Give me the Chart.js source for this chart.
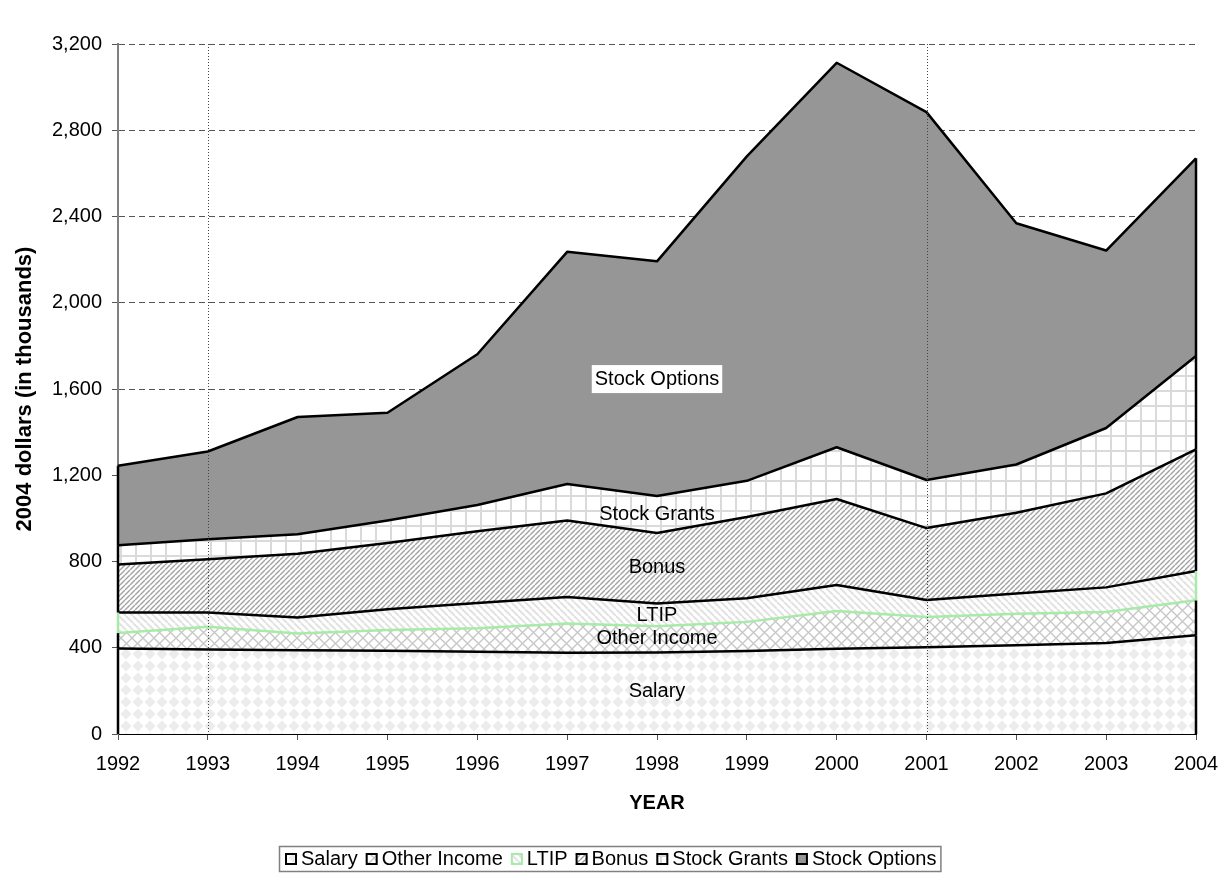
<!DOCTYPE html>
<html>
<head>
<meta charset="utf-8">
<script src="https://cdn.jsdelivr.net/npm/chart.js@4"></script>
<style>
  html, body { margin: 0; padding: 0; background: #fff; }
  #wrap { width: 1222px; height: 877px; position: relative; }
</style>
</head>
<body>
<div id="wrap"><canvas id="compChart"></canvas></div>
<script>
// Data (thousands of 2004 dollars, per component)
const years = ['1992', '1993', '1994', '1995', '1996', '1997', '1998', '1999', '2000', '2001', '2002', '2003', '2004'];
const salary = [397, 392, 388, 386, 382, 377, 378, 385, 395, 402, 412, 422, 458];
const otherIncome = [71, 105, 78, 96, 108, 135, 122, 135, 175, 141, 146, 144, 162];
const ltip = [96, 67, 74, 96, 117, 123, 105, 110, 121, 78, 94, 114, 136];
const bonus = [222, 246, 296, 308, 333, 355, 327, 376, 399, 334, 374, 436, 564];
const stockGrants = [89, 93, 90, 104, 122, 169, 172, 168, 240, 223, 224, 303, 433];
const stockOptions = [369, 407, 544, 500, 699, 1077, 1088, 1505, 1783, 1706, 1119, 823, 917];
const yTicks = [0, 400, 800, 1200, 1600, 2000, 2400, 2800, 3200];
const markedYears = ['1993', '2001'];

// In-chart labels (text, value at the 1998 column)
const areaLabels = ['Stock Options', 'Stock Grants', 'Bonus', 'LTIP', 'Other Income', 'Salary'];
const areaLabelValues = [1646, 1016, 770, 548, 442, 198];
const labelYear = '1998';

const ctx = document.getElementById('compChart').getContext('2d');
Chart.defaults.font.family = "'Liberation Sans', Arial, sans-serif";
Chart.defaults.font.size = 20;
Chart.defaults.color = '#000';
const FONT = "'Liberation Sans', Arial, sans-serif";

// Fill patterns, similar to the old Excel area fills
function makePattern(size, draw) {
    const c = document.createElement('canvas');
    c.width = size;
    c.height = size;
    const g = c.getContext('2d');
    g.fillStyle = '#fff';
    g.fillRect(0, 0, size, size);
    draw(g, size);
    return ctx.createPattern(c, 'repeat');
}

const salaryFill = makePattern(12, (g, s) => {
    g.fillStyle = '#ececec';
    g.beginPath();
    g.moveTo(s / 2, 0.5);
    g.lineTo(s - 0.5, s / 2);
    g.lineTo(s / 2, s - 0.5);
    g.lineTo(0.5, s / 2);
    g.closePath();
    g.fill();
});

const otherFill = makePattern(11, (g, s) => {
    g.strokeStyle = '#c6c6c6';
    g.lineWidth = 1.3;
    for (let k = -1; k <= 1; k++) {
        g.beginPath(); g.moveTo(k * s, 0); g.lineTo(k * s + s, s); g.stroke();
        g.beginPath(); g.moveTo(k * s, s); g.lineTo(k * s + s, 0); g.stroke();
    }
});

const ltipFill = makePattern(7, (g, s) => {
    g.strokeStyle = '#e2e2e2';
    g.lineWidth = 2;
    for (let k = -1; k <= 1; k++) {
        g.beginPath(); g.moveTo(k * s, 0); g.lineTo(k * s + s, s); g.stroke();
    }
});

const bonusFill = makePattern(5, (g, s) => {
    g.strokeStyle = '#a2a2a2';
    g.lineWidth = 1.4;
    for (let k = -1; k <= 1; k++) {
        g.beginPath(); g.moveTo(k * s, s); g.lineTo(k * s + s, 0); g.stroke();
    }
});

const grantsFill = makePattern(15, (g, s) => {
    g.strokeStyle = '#dadada';
    g.lineWidth = 2;
    g.beginPath(); g.moveTo(1, 0); g.lineTo(1, s); g.stroke();
    g.beginPath(); g.moveTo(0, 1); g.lineTo(s, 1); g.stroke();
});

const optionsFill = '#969696';
const ltipGreen = '#a8eaa8';
const edgeColors = ['#000', '#000', ltipGreen, '#000', '#000', '#000'];
const legendStrokes = ['#000', '#000', ltipGreen, '#000', '#000', '#000'];

// Dotted vertical markers at selected years
const markerLines = {
    id: 'markerLines',
    afterDatasetsDraw(chart) {
        const x = chart.scales.x;
        const area = chart.chartArea;
        const c = chart.ctx;
        c.save();
        c.strokeStyle = '#444';
        c.lineWidth = 1;
        c.setLineDash([1, 2]);
        markedYears.forEach(yr => {
            const px = Math.round(x.getPixelForValue(years.indexOf(yr))) + 0.5;
            c.beginPath();
            c.moveTo(px, area.top);
            c.lineTo(px, area.bottom);
            c.stroke();
        });
        c.restore();
    }
};

// Vertical outline at both ends of each stacked area
const areaEdges = {
    id: 'areaEdges',
    afterDatasetsDraw(chart) {
        const c = chart.ctx;
        const y = chart.scales.y;
        c.save();
        c.lineWidth = 2.5;
        chart.data.datasets.forEach((ds, i) => {
            const pts = chart.getDatasetMeta(i).data;
            const below = i > 0 ? chart.getDatasetMeta(i - 1).data : null;
            [0, pts.length - 1].forEach(j => {
                const yb = below ? below[j].y : y.getPixelForValue(0);
                c.strokeStyle = edgeColors[i];
                c.beginPath();
                c.moveTo(pts[j].x, yb);
                c.lineTo(pts[j].x, pts[j].y);
                c.stroke();
            });
        });
        c.restore();
    }
};

// Text labels inside the areas
const areaText = {
    id: 'areaText',
    afterDatasetsDraw(chart) {
        const c = chart.ctx;
        const px = chart.scales.x.getPixelForValue(years.indexOf(labelYear));
        c.save();
        c.font = '20px ' + FONT;
        c.textAlign = 'center';
        c.textBaseline = 'middle';
        areaLabels.forEach((txt, i) => {
            const py = chart.scales.y.getPixelForValue(areaLabelValues[i]);
            if (i === 0) {
                const w = c.measureText(txt).width;
                c.fillStyle = '#fff';
                c.fillRect(px - w / 2 - 3, py - 14, w + 6, 28);
            }
            c.fillStyle = '#000';
            c.fillText(txt, px, py);
        });
        c.restore();
    }
};

// Framed legend row under the axis title (Excel style: small gap box→text)
const frameLegend = {
    id: 'frameLegend',
    afterDraw(chart) {
        const c = chart.ctx;
        const box = 12, gapText = 4, gapItem = 8;
        c.save();
        c.font = '20px ' + FONT;
        c.textBaseline = 'middle';
        const sets = chart.data.datasets;
        const widths = sets.map(ds => c.measureText(ds.label).width);
        let total = widths.reduce((a, w) => a + box + gapText + w, 0) + gapItem * (sets.length - 1);
        const cy = chart.height - 18.5;
        let x = Math.round(chart.width / 2 - total / 2);
        c.strokeStyle = '#808080';
        c.lineWidth = 1.5;
        c.strokeRect(x - 5.5, Math.round(cy) - 12.5, total + 10, 25);
        sets.forEach((ds, i) => {
            const by = Math.round(cy - box / 2);
            c.fillStyle = ds.backgroundColor;
            c.fillRect(x, by, box, box);
            c.strokeStyle = legendStrokes[i];
            c.lineWidth = 2;
            c.strokeRect(x + 1, by + 1, box - 2, box - 2);
            c.fillStyle = '#000';
            c.fillText(ds.label, x + box + gapText, cy + 1);
            x += box + gapText + widths[i] + gapItem;
        });
        c.restore();
    }
};

function areaSet(label, data, fill, lineColor, first) {
    return {
        label: label,
        data: data,
        backgroundColor: fill,
        borderColor: lineColor,
        borderWidth: 2.5,
        borderJoinStyle: 'round',
        pointRadius: 0,
        pointHoverRadius: 0,
        tension: 0,
        fill: first ? 'origin' : '-1'
    };
}

const compChart = new Chart(ctx, {
    type: 'line',
    data: {
        labels: years,
        datasets: [
            areaSet('Salary', salary, salaryFill, '#000', true),
            areaSet('Other Income', otherIncome, otherFill, ltipGreen, false),
            areaSet('LTIP', ltip, ltipFill, '#000', false),
            areaSet('Bonus', bonus, bonusFill, '#000', false),
            areaSet('Stock Grants', stockGrants, grantsFill, '#000', false),
            areaSet('Stock Options', stockOptions, optionsFill, '#000', false)
        ]
    },
    plugins: [markerLines, areaEdges, areaText, frameLegend],
    options: {
        responsive: true,
        maintainAspectRatio: false,
        animation: false,
        events: [],
        layout: {
            padding: { left: 0, right: 26, top: 44, bottom: 33 }
        },
        plugins: {
            tooltip: { enabled: false },
            legend: { display: false }
        },
        scales: {
            x: {
                z: 1,
                offset: false,
                grid: {
                    drawOnChartArea: false,
                    drawTicks: true,
                    tickLength: 6,
                    tickColor: '#555',
                    tickWidth: 1
                },
                border: { color: '#000', width: 2 },
                ticks: {
                    padding: 12,
                    autoSkip: false,
                    maxRotation: 0,
                    font: { size: 20 }
                },
                title: {
                    display: true,
                    text: 'YEAR',
                    font: { size: 20, weight: 'bold' },
                    padding: { top: 0, bottom: 29 }
                },
                afterFit(scale) {
                    scale.height = 110;
                    scale.paddingLeft = 0;
                    scale.paddingRight = 0;
                }
            },
            y: {
                stacked: true,
                min: yTicks[0],
                max: yTicks[yTicks.length - 1],
                afterBuildTicks(scale) {
                    scale.ticks = yTicks.map(v => ({ value: v }));
                },
                grid: {
                    color: c => (c.tick && c.tick.value === 0) ? 'rgba(0,0,0,0)' : '#555',
                    lineWidth: 1,
                    tickLength: 6,
                    tickColor: '#555',
                    tickBorderDash: []
                },
                border: { color: '#808080', width: 2, dash: [6, 4] },
                ticks: {
                    padding: 10,
                    font: { size: 20 },
                    callback: v => v.toLocaleString('en-US')
                },
                title: {
                    display: true,
                    text: '2004 dollars (in thousands)',
                    font: { size: 22, weight: 'bold' },
                    padding: { top: 12, bottom: 0 }
                },
                afterFit(scale) { scale.width = 118; }
            }
        }
    }
});
</script>
</body>
</html>
